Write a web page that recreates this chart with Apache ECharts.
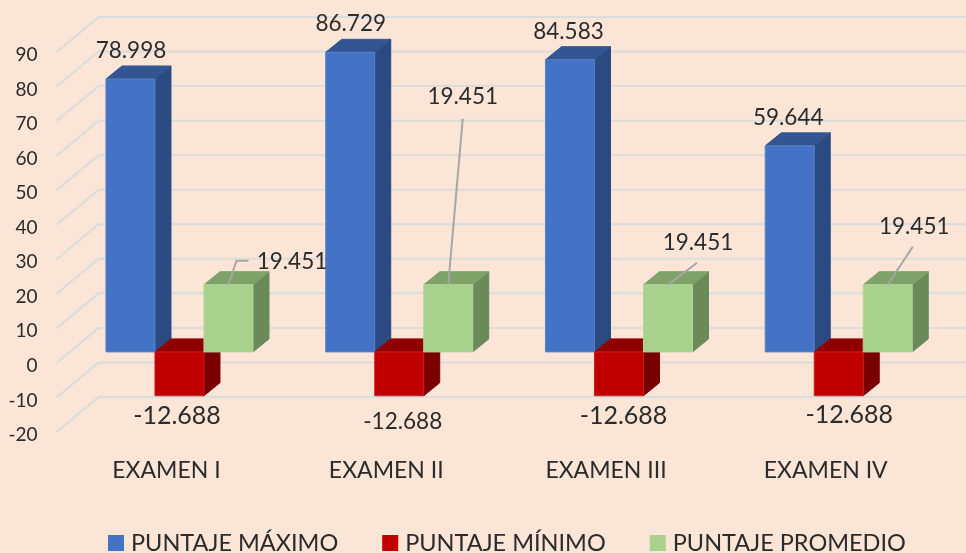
<!DOCTYPE html>
<html>
<head>
<meta charset="utf-8">
<style>html,body{margin:0;padding:0;background:#fbe5d6}#c{width:966px;height:553px}</style>
<script src="https://cdn.jsdelivr.net/npm/echarts@6/dist/echarts.min.js"></script>
</head>
<body>
<div id="c"></div>
<script>
const categories = ['EXAMEN I', 'EXAMEN II', 'EXAMEN III', 'EXAMEN IV'];
const puntajeMaximo = [78.998, 86.729, 84.583, 59.644];
const puntajeMinimo = [-12.688, -12.688, -12.688, -12.688];
const puntajePromedio = [19.451, 19.451, 19.451, 19.451];
const seriesNames = ['PUNTAJE MÁXIMO', 'PUNTAJE MÍNIMO', 'PUNTAJE PROMEDIO'];
const yTicks = [-20, -10, 0, 10, 20, 30, 40, 50, 60, 70, 80, 90];

// Presentation only: colours and hand-placed label layout
const FONT = 'Lato';
const TEXT = '#2b2b2b';
const faces = [
  { front: '#4472c4', top: '#335592', side: '#2b4a82', edge: '#5a82cb' },
  { front: '#c00000', top: '#900000', side: '#7a0000', edge: '#c82020' },
  { front: '#a9d18e', top: '#7fa268', side: '#6b8a5a', edge: '#b2d69a' }
];
const labelLayout = [
  [[0.5, -28, 22.5], [0.5, -29, 22.5], [-1.5, -28, 22.5], [-1.5, -28, 22.5]],
  [[-2.5, 20.5, 25], [3.5, 26.5, 22.5], [4.5, 20.5, 25], [10.5, 19.5, 25]],
  [[63.5, -23, 22.5], [14.5, -188, 22.5], [30, -42, 22.5], [26.5, -58, 22.5]]
];
const leaders = [
  [[8, -24], [20, -24]],
  [[14.5, -166]],
  [[29, -22]],
  [[25, -38]]
];
const BAND_RATIO = 49 / 219.7;
const FLOOR = { dx: 42, dy: 35 };
const PLANE = { dx: 13, dy: 11 };
const BAR = { dx: 16, dy: 13 };

function poly(points, fill, stroke) {
  return { type: 'polygon', shape: { points }, style: { fill, stroke: stroke || fill, lineWidth: 1 } };
}

function barRenderer(si) {
  return function (params, api) {
    const i = api.value(0), v = api.value(1);
    const c = api.coord([i, v]), z = api.coord([i, 0]);
    const band = api.size([1, 0])[0];
    const w = band * BAND_RATIO;
    const xl = c[0] + PLANE.dx + (si - 1.5) * w;
    const xr = xl + w;
    const yv = c[1] - PLANE.dy, y0 = z[1] - PLANE.dy;
    const yt = Math.min(yv, y0), yb = Math.max(yv, y0);
    const f = faces[si];
    const children = [
      poly([[xr, yt], [xr + BAR.dx, yt - BAR.dy], [xr + BAR.dx, yb - BAR.dy], [xr, yb]], f.side),
      poly([[xl, yt], [xr, yt], [xr + BAR.dx, yt - BAR.dy], [xl + BAR.dx, yt - BAR.dy]], f.top),
      poly([[xl, yt], [xr, yt], [xr, yb], [xl, yb]], f.front, f.edge)
    ];
    const mx = (xl + xr) / 2;
    const anchorY = v >= 0 ? yv : yb;
    if (si === 2) {
      const pts = [[mx, anchorY]].concat(leaders[i].map(p => [mx + p[0], anchorY + p[1]]));
      children.push({ type: 'polyline', shape: { points: pts }, style: { stroke: '#a6a6a6', lineWidth: 2, fill: 'none' } });
    }
    const lay = labelLayout[si][i];
    children.push({
      type: 'text', x: mx + lay[0], y: anchorY + lay[1],
      style: { text: v.toFixed(3), fontFamily: FONT, fontSize: lay[2], fill: TEXT, align: 'center', verticalAlign: 'middle' }
    });
    return { type: 'group', children };
  };
}

function gridRenderer(params, api) {
  const v = api.value(1);
  const c = api.coord([0, v]);
  const band = api.size([1, 0])[0];
  const x0 = c[0] - band / 2;
  return {
    type: 'polyline',
    shape: { points: [[x0, c[1]], [x0 + FLOOR.dx, c[1] - FLOOR.dy], [966, c[1] - FLOOR.dy]] },
    style: { stroke: '#dbdcdc', lineWidth: 2, fill: 'none' }
  };
}

const barData = [puntajeMaximo, puntajeMinimo, puntajePromedio];
const chart = echarts.init(document.getElementById('c'), null, { renderer: 'canvas' });
chart.setOption({
  animation: false,
  backgroundColor: '#fbe5d6',
  textStyle: { fontFamily: FONT },
  grid: { left: 56.6, width: 879, top: 52, height: 380, containLabel: false },
  legend: {
    data: seriesNames.map((name, i) => ({ name, itemStyle: { color: faces[i].front } })),
    left: 108, top: 531, itemWidth: 16, itemHeight: 16, itemGap: 44, icon: 'rect',
    textStyle: { fontFamily: FONT, fontSize: 23.5, color: TEXT, padding: [0, 0, 0, 2] },
    padding: 0
  },
  xAxis: {
    type: 'category', data: categories,
    axisLine: { show: false, onZero: false }, axisTick: { show: false },
    axisLabel: { margin: 27, fontFamily: FONT, fontSize: 23, color: TEXT, interval: 0 }
  },
  yAxis: {
    type: 'value', min: -20, max: 90, interval: 10,
    axisLine: { show: false }, axisTick: { show: false }, splitLine: { show: false },
    axisLabel: { margin: 19, fontFamily: FONT, fontSize: 19, color: TEXT, verticalAlign: 'top', lineHeight: 6 }
  },
  series: [
    { type: 'custom', name: 'grid', z: 1, silent: true, clip: false, renderItem: gridRenderer,
      data: yTicks.map(t => [0, t]), encode: { x: 0, y: 1 } }
  ].concat(barData.map((vals, si) => ({
    type: 'custom', name: seriesNames[si], z: 2 + si, clip: false,
    itemStyle: { color: faces[si].front },
    renderItem: barRenderer(si),
    data: vals.map((v, i) => [i, v]), encode: { x: 0, y: 1 }
  })))
});
</script>
</body>
</html>
